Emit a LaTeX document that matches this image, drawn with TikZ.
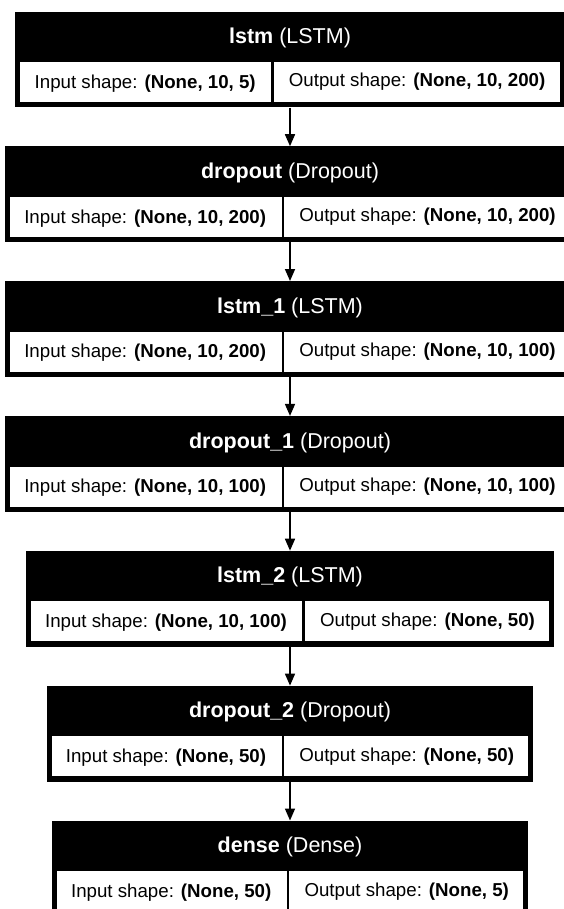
\documentclass[tikz,border=0pt]{standalone}
\usepackage{fontspec}
\setmainfont{Liberation Sans}
\usetikzlibrary{shapes.multipart,fit,backgrounds,arrows.meta}

\newcommand\cellfont{\fontsize{18.7}{22}\selectfont}
\newcommand\headfont{\fontsize{21.5}{25}\selectfont}

\tikzset{
  iocells/.style={rectangle split, rectangle split horizontal,
    rectangle split parts=2, draw=black, line width=2.4pt, fill=white,
    inner xsep=15.4pt, inner ysep=11.5pt, text height=15.5pt, text depth=3pt,
    font=\cellfont, text=black},
  layerbox/.style={fill=black, draw=none, inner xsep=2.6pt, inner ysep=3pt},
  layername/.style={font=\headfont, text=white, inner sep=0pt},
  flow/.style={line width=1.6pt, -{Triangle[width=10pt,length=12pt]}}
}

% one layer: name, top edge, header text, input shape, output shape
\newcommand\layerblock[5]{%
  \coordinate (#1-top) at (290,{#2+3});
  \node[iocells] (#1-io) at (290,{#2+70.5})
    {Input shape: \textbf{#4}\nodepart{two}Output shape: \textbf{#5}};
  \node[layername] (#1-name) at (290,{#2+26.5}) {#3};
  \begin{scope}[on background layer]
    \node[layerbox, fit=(#1-top)(#1-io)] (#1) {};
  \end{scope}
}

\begin{document}
\begin{tikzpicture}[x=1pt,y=-1pt]
  \useasboundingbox (0,0) rectangle (563,909);
  \begin{scope}[on background layer]
    \fill[white] (0,0) rectangle (563,909);
  \end{scope}

  \layerblock{lstm}{11.6}{\textbf{lstm} (LSTM)}{(None, 10, 5)}{(None, 10, 200)}
  \layerblock{dropout}{146.4}{\textbf{dropout} (Dropout)}{(None, 10, 200)}{(None, 10, 200)}
  \layerblock{lstm1}{281.2}{\textbf{lstm\_1} (LSTM)}{(None, 10, 200)}{(None, 10, 100)}
  \layerblock{dropout1}{416.1}{\textbf{dropout\_1} (Dropout)}{(None, 10, 100)}{(None, 10, 100)}
  \layerblock{lstm2}{550.9}{\textbf{lstm\_2} (LSTM)}{(None, 10, 100)}{(None, 50)}
  \layerblock{dropout2}{685.8}{\textbf{dropout\_2} (Dropout)}{(None, 50)}{(None, 50)}
  \layerblock{dense}{820.7}{\textbf{dense} (Dense)}{(None, 50)}{(None, 5)}

  \draw[flow] (lstm.south) -- (dropout.north);
  \draw[flow] (dropout.south) -- (lstm1.north);
  \draw[flow] (lstm1.south) -- (dropout1.north);
  \draw[flow] (dropout1.south) -- (lstm2.north);
  \draw[flow] (lstm2.south) -- (dropout2.north);
  \draw[flow] (dropout2.south) -- (dense.north);
\end{tikzpicture}
\end{document}
